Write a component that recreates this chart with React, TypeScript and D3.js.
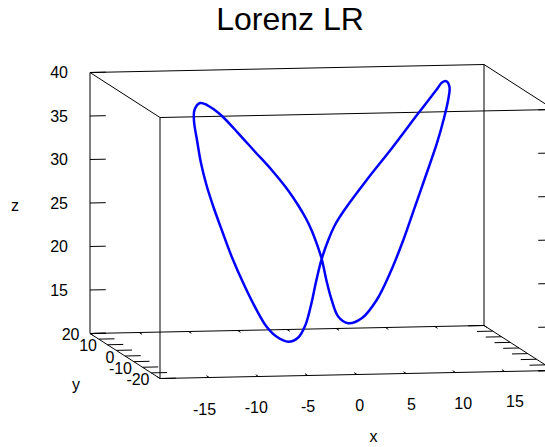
import React from "react";
import * as d3 from "d3";

// LR periodic orbit of the Lorenz system
const orbitX = [4.04, 5.90, 8.04, 9.92, 11.72, 12.80, 13.76, 14.43, 14.61, 14.62, 14.42, 13.90, 13.16, 12.39, 10.13, 7.20, 4.36, 1.83, 0.73, -0.07, -0.92, -1.73, -2.41, -3.10, -3.83, -4.79, -6.46, -7.84, -9.21, -10.84, -12.63, -13.66, -14.43, -14.84, -15.04, -15.00, -14.86, -14.49, -13.65, -12.65, -11.76, -10.72, -8.85, -6.98, -5.11, -3.29, -2.08, -1.11, -0.36, 0.46, 0.95, 1.63, 2.28, 3.08];
const orbitY = [7.7, 10.5, 14, 17, 19.5, 19.2, 18, 15.5, 12.5, 10, 8.3, 7.1, 5.5, 4, 2, 0.5, -1, -2.5, -3.3, -4, -5, -6.3, -7.3, -8, -8, -7.7, -10.5, -12.5, -14.5, -17, -19.5, -19.6, -19.2, -17.5, -15.5, -13, -10.5, -8.7, -7.1, -5.5, -4.5, -3.5, -2, -1, 0, 1, 2, 3, 4, 5, 5.5, 6.5, 7.3, 8];
const orbitZ = [12.21, 12.38, 13.98, 16.62, 20.08, 23.77, 27.70, 31.69, 34.94, 37.57, 39.06, 39.88, 39.96, 39.43, 36.94, 33.22, 29.80, 26.60, 25.01, 23.39, 21.36, 18.90, 16.40, 14.21, 12.79, 12.29, 13.26, 14.70, 16.91, 19.95, 23.77, 26.87, 29.48, 31.80, 34.07, 36.39, 38.25, 39.27, 39.85, 39.39, 38.73, 37.77, 35.60, 33.31, 31.04, 28.57, 26.69, 25.01, 23.51, 21.45, 19.96, 17.23, 14.98, 12.95];

const xRange = [-20, 20];
const yRange = [-20, 20];
const zRange = [10, 40];
const xTicks = [-20, -15, -10, -5, 0, 5, 10, 15, 20];
const xTickLabels = [-15, -10, -5, 0, 5, 10, 15];
const yTicks = [-20, -15, -10, -5, 0, 5, 10, 15, 20];
const yTickLabels = [-20, -10, 0, 10, 20];
const zTicks = [10, 15, 20, 25, 30, 35, 40];
const zTickLabels = [15, 20, 25, 30, 35, 40];

const width = 545;
const height = 447;

// box corner (xmin, ymin, zmin) and edge vectors on screen
const origin = [160, 378.5];
const ex = [394, -8];
const ey = [-70, -45];
const ez = [0, -261];

const xs = d3.scaleLinear().domain(xRange).range([0, 1]);
const ys = d3.scaleLinear().domain(yRange).range([0, 1]);
const zs = d3.scaleLinear().domain(zRange).range([0, 1]);

function proj(x: number, y: number, z: number): [number, number] {
  const u = xs(x), v = ys(y), w = zs(z);
  return [
    origin[0] + u * ex[0] + v * ey[0] + w * ez[0],
    origin[1] + u * ex[1] + v * ey[1] + w * ez[1],
  ];
}

// x tick labels sit a little apart from the tick marks
const xLabX = d3.scaleLinear().domain([-15, 15]).range([204.5, 515]);
const xLabY = d3.scaleLinear().domain([-15, 15]).range([409, 401.7]);

const tick = 1.6;
const font = "'Liberation Sans', Arial, sans-serif";

function seg(a: [number, number], b: [number, number], key: string) {
  return <line key={key} x1={a[0]} y1={a[1]} x2={b[0]} y2={b[1]} stroke="#000" strokeWidth={1} />;
}

export default function App() {
  const [x0, x1] = xRange;
  const [y0, y1] = yRange;
  const [z0, z1] = zRange;

  const edges: [number, number, number, number, number, number][] = [
    [x0, y0, z0, x1, y0, z0], [x1, y0, z0, x1, y1, z0], [x1, y1, z0, x0, y1, z0], [x0, y1, z0, x0, y0, z0],
    [x0, y0, z1, x1, y0, z1], [x1, y0, z1, x1, y1, z1], [x1, y1, z1, x0, y1, z1], [x0, y1, z1, x0, y0, z1],
    [x0, y0, z0, x0, y0, z1], [x1, y0, z0, x1, y0, z1], [x1, y1, z0, x1, y1, z1], [x0, y1, z0, x0, y1, z1],
  ];

  const pts = orbitX.map((x, i) => proj(x, orbitY[i], orbitZ[i]));
  const path = d3.line().curve(d3.curveCatmullRomClosed.alpha(0.5))(pts) || "";

  return (
    <svg width={width} height={height} style={{ position: "absolute", left: 0, top: 0, background: "#fff" }} fontFamily={font}>
      <rect width={width} height={height} fill="#fff" />
      <text x={290} y={30} fontSize={32} textAnchor="middle">Lorenz LR</text>

      {edges.map((e, i) => seg(proj(e[0], e[1], e[2]), proj(e[3], e[4], e[5]), "e" + i))}

      {/* z ticks: back-left vertical and mirror on front-right vertical */}
      {zTicks.map((z) => seg(proj(x0, y1, z), proj(x0 + tick, y1, z), "zl" + z))}
      {zTicks.map((z) => seg(proj(x1, y0, z), proj(x1 - tick, y0, z), "zr" + z))}
      {zTickLabels.map((z) => {
        const p = proj(x0, y1, z);
        return <text key={"zt" + z} x={p[0] - 22} y={p[1]} dy="0.35em" fontSize={16} textAnchor="end">{z}</text>;
      })}

      {/* y ticks: left base edge and mirror on right base edge */}
      {yTicks.map((y) => seg(proj(x0, y, z0), proj(x0 + tick, y, z0), "yl" + y))}
      {yTicks.map((y) => seg(proj(x1, y, z0), proj(x1 - tick, y, z0), "yr" + y))}
      {yTickLabels.map((y) => {
        const p = proj(x0, y, z0);
        return <text key={"yt" + y} x={p[0] - 10.5} y={p[1] + 1} dy="0.35em" fontSize={16} textAnchor="end">{y}</text>;
      })}

      {/* x ticks: front base edge and mirror on back base edge */}
      {xTicks.map((x) => seg(proj(x, y0, z0), proj(x, y0 + tick, z0), "xf" + x))}
      {xTicks.map((x) => seg(proj(x, y1, z0), proj(x, y1 - tick, z0), "xb" + x))}
      {xTickLabels.map((x) => (
        <text key={"xt" + x} x={xLabX(x)} y={xLabY(x)} dy="0.35em" fontSize={16} textAnchor="middle">{x}</text>
      ))}

      <text x={373.5} y={436.5} dy="0.35em" fontSize={16} textAnchor="middle">x</text>
      <text x={76} y={384} dy="0.35em" fontSize={16} textAnchor="middle">y</text>
      <text x={15} y={205} dy="0.35em" fontSize={16} textAnchor="middle">z</text>

      <path d={path} fill="none" stroke="#0000ff" strokeWidth={2.5} strokeLinejoin="round" />
    </svg>
  );
}
